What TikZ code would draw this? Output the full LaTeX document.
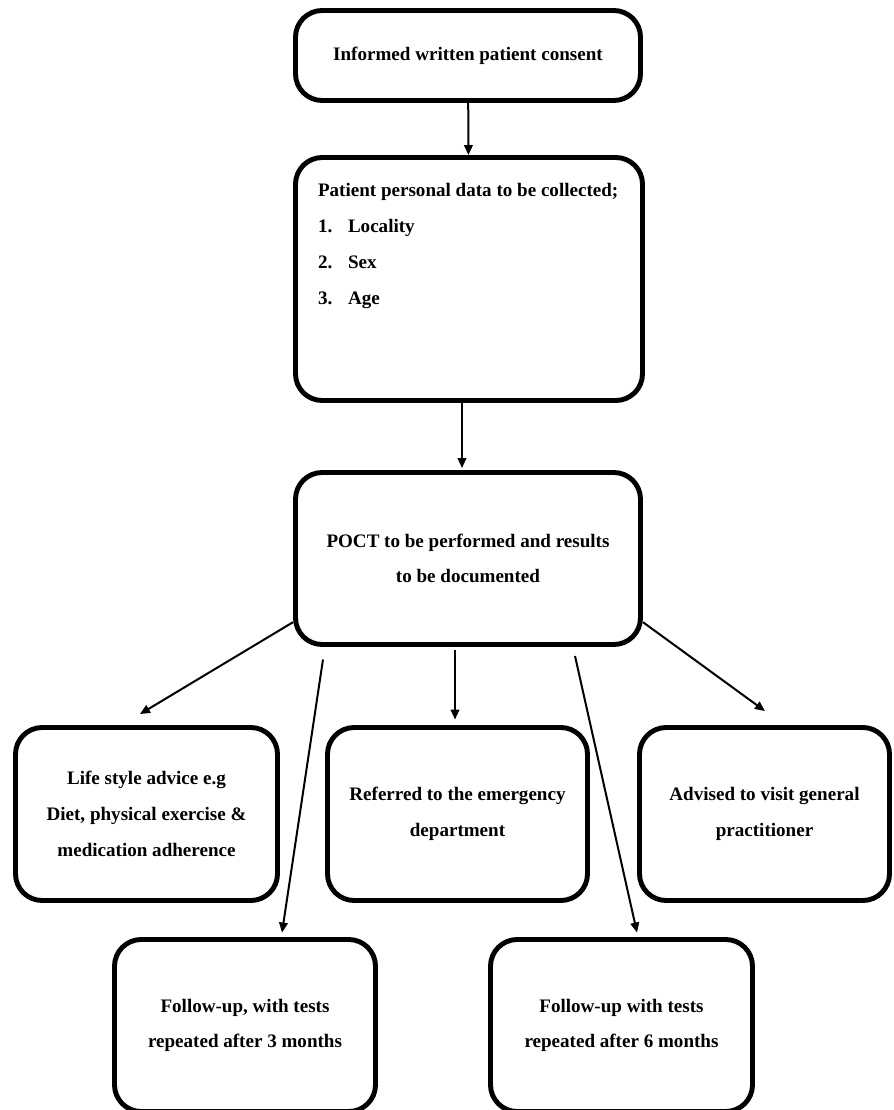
\documentclass[tikz,border=0pt]{standalone}
\usepackage{fontspec}
\setmainfont{Liberation Serif}
\usetikzlibrary{arrows.meta}

\begin{document}
\begin{tikzpicture}[x=0.75pt,y=-0.75pt,>={Triangle[length=7.5pt,width=6.5pt]},
    box/.style={draw,line width=3.7pt,rounded corners=20pt,align=center,inner sep=0pt,
        font=\fontsize{14.3pt}{26.8pt}\selectfont\bfseries},
    arr/.style={->,line width=1.5pt}]
        \useasboundingbox (0,0) rectangle (893,1110);
        \clip (0,0) rectangle (893,1110);
        \node[box,minimum width=258.75pt,minimum height=67.5pt](consent) at (468,55.5) {Informed written patient consent};
        \node[box,minimum width=260.25pt,minimum height=182.25pt](data) at (469,279) {\parbox[c][182.25pt][t]{260.25pt}{\leftskip=16.9pt\vspace*{19pt}%
            Patient personal data to be collected;\\[0.2pt]
            \makebox[22.5pt][l]{1.}Locality\\[0.2pt]
            \makebox[22.5pt][l]{2.}Sex\\[0.2pt]
            \makebox[22.5pt][l]{3.}Age}};
        \node[box,minimum width=258.75pt,minimum height=129pt](poct) at (468,558.5) {POCT to be performed and results\\ to be documented};
        \node[box,minimum width=196.5pt,minimum height=129.75pt](life) at (146.5,814) {Life style advice e.g\\ Diet, physical exercise \&\\ medication adherence};
        \node[box,minimum width=195pt,minimum height=129.75pt](emerg) at (457.5,814) {Referred to the emergency\\ department};
        \node[box,minimum width=187.5pt,minimum height=129.75pt](gp) at (764.5,814) {Advised to visit general\\ practitioner};
        \node[box,minimum width=195.75pt,minimum height=129pt](fu3) at (245,1025.5) {Follow-up, with tests\\ repeated after 3 months};
        \node[box,minimum width=196.5pt,minimum height=129pt](fu6) at (621.5,1025.5) {Follow-up with tests\\ repeated after 6 months};
        \draw[arr](consent)--(data);
        \draw[arr]([xshift=-5.25pt]data.south)--([shift={(-6,-2)}]poct.north);
        \draw[arr](poct.200)--([shift={(-6.5,-11)}]life.north);
        \draw[arr]([shift={(-13,3.5)}]poct.south)--([shift={(-2.5,-5.5)}]emerg.north);
        \draw[arr](poct.340)--([shift={(0.5,-14)}]gp.north);
        \draw[arr]([shift={(-145,12.5)}]poct.south)--([shift={(37,-4.5)}]fu3.north);
        \draw[arr]([shift={(107,9)}]poct.south)--([shift={(15.5,-4.5)}]fu6.north);
    \end{tikzpicture}
\end{document}
